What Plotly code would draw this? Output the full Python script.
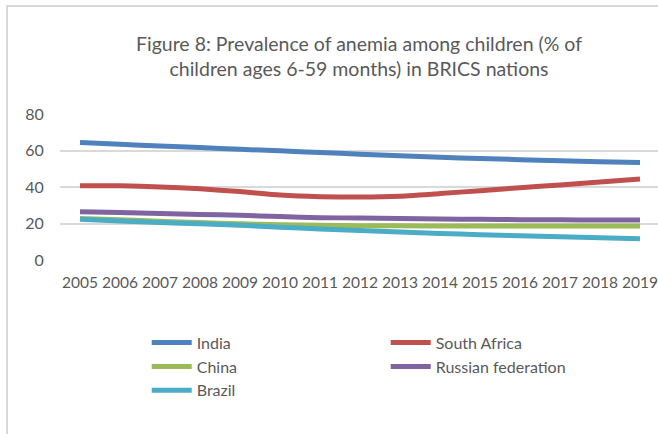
import plotly.graph_objects as go

years = list(range(2005, 2020))
india = [64.4, 63.4, 62.5, 61.6, 60.7, 59.8, 58.9, 58.0, 57.1, 56.3, 55.6, 55.0, 54.4, 53.9, 53.4]
south_africa = [40.7, 40.7, 40.0, 39.0, 37.5, 35.6, 34.7, 34.5, 35.0, 36.4, 38.0, 39.6, 41.1, 42.7, 44.4]
china = [22.8, 22.0, 21.2, 20.5, 19.8, 19.3, 19.0, 18.8, 18.7, 18.6, 18.6, 18.6, 18.6, 18.6, 18.6]
russia = [26.5, 26.0, 25.5, 25.0, 24.5, 23.8, 23.2, 23.0, 22.8, 22.5, 22.3, 22.1, 22.0, 21.9, 21.9]
brazil = [22.3, 21.4, 20.6, 19.8, 19.0, 18.0, 17.0, 16.1, 15.3, 14.5, 13.9, 13.3, 12.7, 12.2, 11.7]

series = [
    ("India", india, "#4F81BD"),
    ("South Africa", south_africa, "#C0504D"),
    ("China", china, "#9BBB59"),
    ("Russian federation", russia, "#8064A2"),
    ("Brazil", brazil, "#4BACC6"),
]

FONT = "Lato"
GREY = "#595959"

fig = go.Figure()
for name, vals, color in series:
    fig.add_trace(go.Scatter(
        x=years, y=vals, name=name, mode="lines",
        line=dict(color=color, width=5, shape="spline", smoothing=0.6),
    ))

fig.update_layout(
    width=658, height=434,
    margin=dict(l=60, r=0, t=114, b=174),
    paper_bgcolor="white", plot_bgcolor="white",
    font=dict(family=FONT, color=GREY, size=15),
    title=dict(
        text="Figure 8: Prevalence of anemia among children (% of<br>children ages 6-59 months) in BRICS nations",
        x=0.5, xanchor="center", xref="paper",
        y=1 - 51 / 434, yanchor="middle", yref="container",
        font=dict(family=FONT, size=19.5, color=GREY),
    ),
    showlegend=True,
    legend=dict(
        orientation="h", x=0.145, xanchor="left", y=-0.45, yanchor="top",
        entrywidth=184, entrywidthmode="pixels",
        font=dict(family=FONT, size=16, color=GREY),
        tracegroupgap=0, itemwidth=40,
    ),
    shapes=[dict(
        type="rect", xref="paper", yref="paper",
        x0=(7 - 60) / 598, x1=1.2, y0=-2.0, y1=(260 - 6) / 146,
        line=dict(color="#D9D9D9", width=2), fillcolor="rgba(0,0,0,0)", layer="below",
    )],
)

fig.update_xaxes(
    range=[2004.5, 2019.45], tickmode="array", tickvals=years,
    ticktext=[str(y) for y in years],
    showgrid=False, zeroline=False, showline=False,
    ticks="outside", ticklen=8, tickcolor="rgba(0,0,0,0)",
    tickfont=dict(family=FONT, size=15.5, color=GREY),
    ticklabeloverflow="allow",
)
fig.update_yaxes(
    range=[0, 80], tickvals=[0, 20, 40, 60, 80],
    showgrid=True, gridcolor="#D9D9D9", gridwidth=1.5,
    zeroline=False, showline=False,
    ticks="outside", ticklen=12, tickcolor="rgba(0,0,0,0)",
    tickfont=dict(family=FONT, size=16, color=GREY),
)

fig.write_html("out.html")
